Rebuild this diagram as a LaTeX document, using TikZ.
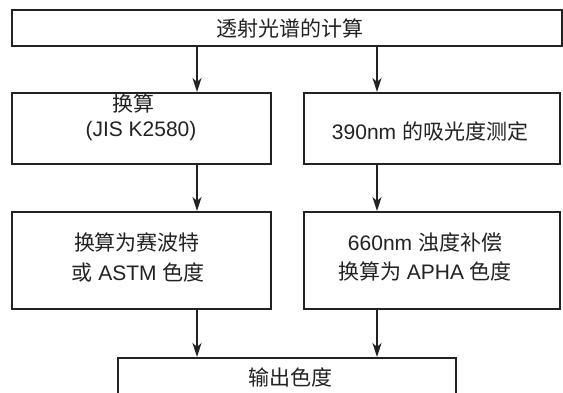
\documentclass[tikz,border=0pt]{standalone}
\usepackage{fontspec}
\setmainfont{Liberation Sans}
\newfontfamily\cjk{Noto Sans CJK SC}
\usetikzlibrary{arrows.meta}
\definecolor{ink}{HTML}{222222}
\tikzset{
  box/.style={draw=ink, line width=2pt, fill=none, inner sep=0pt},
  txt/.style={text=ink, inner sep=0pt, font=\fontsize{21}{26}\selectfont, anchor=center},
  arr/.style={draw=ink, line width=1.4pt, -{Stealth[length=14pt,width=9pt,inset=4pt]}}
}
\begin{document}
\begin{tikzpicture}[x=1pt,y=-1pt]
\useasboundingbox (0,0) rectangle (563,392);
\fill[white] (0,0) rectangle (563,392);
% boxes
\node[box, minimum width=550pt, minimum height=36pt] (top) at (287,28) {};
\node[box, minimum width=259pt, minimum height=71pt] (l2) at (141.5,128.5) {};
\node[box, minimum width=256pt, minimum height=71pt] (r2) at (432,128.5) {};
\node[box, minimum width=259pt, minimum height=97pt] (l3) at (141.5,260.5) {};
\node[box, minimum width=256pt, minimum height=97pt] (r3) at (432,260.5) {};
\node[box, minimum width=338pt, minimum height=60pt] (bot) at (287,388) {};
% texts
\node[txt] (ttop) at (290,28) {\cjk 透射光谱的计算};
\node[txt] (tl2a) at (133,103) {\cjk 换算};
\node[txt] (tl2b) at (141,131) {(JIS K2580)};
\node[txt] (tr2) at (430,131) {390nm {\cjk 的吸光度测定}};
\node[txt] (tl3a) at (137,242) {\cjk 换算为赛波特};
\node[txt] (tl3b) at (138,272) {{\cjk 或} ASTM {\cjk 色度}};
\node[txt] (tr3a) at (425,242) {660nm {\cjk 浊度补偿}};
\node[txt] (tr3b) at (425,271) {{\cjk 换算为} APHA {\cjk 色度}};
\node[txt] (tbot) at (290,377) {\cjk 输出色度};
% arrow columns
\coordinate (cl) at (197,0);
\coordinate (cr) at (377,0);
\draw[arr] (top.south -| cl) -- (l2.north -| cl);
\draw[arr] (top.south -| cr) -- (r2.north -| cr);
\draw[arr] (l2.south -| cl) -- (l3.north -| cl);
\draw[arr] (r2.south -| cr) -- (r3.north -| cr);
\draw[arr] (l3.south -| cl) -- (bot.north -| cl);
\draw[arr] (r3.south -| cr) -- (bot.north -| cr);
\end{tikzpicture}
\end{document}
